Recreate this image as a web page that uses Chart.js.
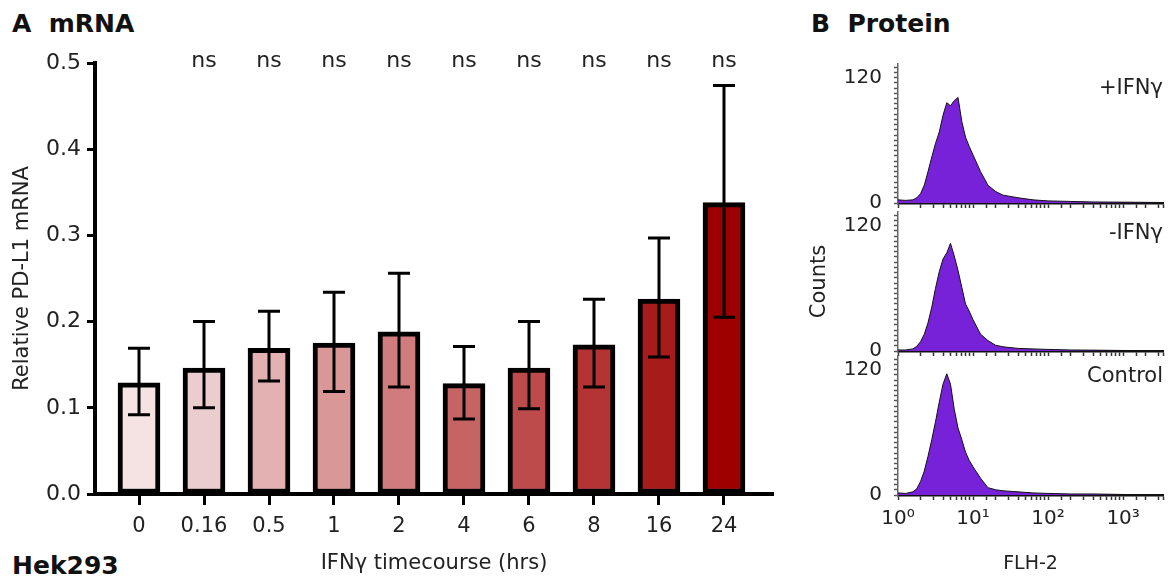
<!DOCTYPE html>
<html>
<head>
<meta charset="utf-8">
<script src="https://cdn.jsdelivr.net/npm/chart.js@4/dist/chart.umd.min.js"></script>
<style>
  body { margin: 0; background: #fff; width: 1175px; height: 579px; position: relative; overflow: hidden; font-family: "DejaVu Sans", sans-serif; }
  canvas { position: absolute; }
  .lbl { position: absolute; font-weight: bold; font-size: 25px; line-height: 1; color: #111; white-space: pre; }
</style>
</head>
<body>
<div class="lbl" style="left:12px; top:11px;">A  mRNA</div>
<div class="lbl" style="left:811px; top:11px;">B  Protein</div>
<div class="lbl" style="left:12px; top:553px;">Hek293</div>

<canvas id="barChart" width="800" height="579" style="left:0; top:0;"></canvas>
<canvas id="hist1" width="370" height="187" style="left:805px; top:40px;"></canvas>
<canvas id="hist2" width="370" height="187" style="left:805px; top:188px;"></canvas>
<canvas id="hist3" width="370" height="247" style="left:805px; top:332px;"></canvas>

<script>
// panel A - relative PD-L1 mRNA over the IFNg timecourse
const timepoints = ['0', '0.16', '0.5', '1', '2', '4', '6', '8', '16', '24'];
const mrnaMean  = [0.129, 0.146, 0.169, 0.175, 0.188, 0.128, 0.146, 0.173, 0.226, 0.338];
const mrnaUpper = [0.169, 0.200, 0.212, 0.234, 0.256, 0.171, 0.200, 0.226, 0.297, 0.474];
const mrnaLower = [0.092, 0.100, 0.131, 0.119, 0.124, 0.087, 0.099, 0.124, 0.159, 0.205];
const sigLabels = ['', 'ns', 'ns', 'ns', 'ns', 'ns', 'ns', 'ns', 'ns', 'ns'];
const barColors = ['#f5e3e3', '#eccdcf', '#e3b1b1', '#d99797', '#d07c7c',
                   '#c66464', '#bd4b4b', '#b43333', '#a81b1b', '#9e0000'];

// panel B - flow histograms (FLH-2 channel vs counts)
const flh2   = [1.00, 1.26, 1.58, 1.78, 2.00, 2.24, 2.51, 2.82, 3.16, 3.55, 3.98, 4.47, 5.01, 5.62, 6.31,
                7.08, 7.94, 8.91, 10.0, 12.6, 15.8, 20.0, 25.1, 39.8, 63.1, 100, 200, 398, 1000, 3160];
const plusIfn  = [3, 2.5, 3, 5, 9, 17, 30, 44, 57, 68, 84, 96, 93, 98, 101,
                  78, 63, 54, 46, 30, 17, 11, 7.5, 5, 3, 2, 1.5, 1, 0.8, 0.5];
const minusIfn = [1, 1, 2, 4.5, 9, 16, 27, 42, 60, 76, 88, 94, 103, 91, 77,
                  61, 45, 38, 30, 16, 10, 5.5, 4, 2.5, 2, 1.5, 1, 0.8, 0.5, 0.3];
const control  = [2, 1.5, 3, 6, 13, 23, 37, 53, 70, 89, 106, 116, 106, 82, 64,
                  53, 41, 33, 27, 16, 7, 5, 4, 3, 2, 1.5, 1, 1, 0.5, 0.3];
const countTicks = [0, 120];

Chart.defaults.font.family = 'DejaVu Sans';
Chart.defaults.color = '#222';

const errorBars = {
  id: 'errorBars',
  afterDatasetsDraw(chart) {
    const {ctx, scales: {x, y}} = chart;
    ctx.save();
    ctx.strokeStyle = '#000';
    ctx.lineWidth = 3;
    mrnaMean.forEach((m, i) => {
      const px = x.getPixelForValue(i);
      const top = y.getPixelForValue(mrnaUpper[i]);
      const bot = y.getPixelForValue(mrnaLower[i]);
      ctx.beginPath();
      ctx.moveTo(px, top); ctx.lineTo(px, bot);
      ctx.moveTo(px - 11, top); ctx.lineTo(px + 11, top);
      ctx.moveTo(px - 11, bot); ctx.lineTo(px + 11, bot);
      ctx.stroke();
    });
    // significance labels on the 0.5 line
    ctx.fillStyle = '#222';
    ctx.font = '22px "DejaVu Sans"';
    ctx.textAlign = 'center';
    ctx.textBaseline = 'middle';
    sigLabels.forEach((s, i) => {
      if (s) ctx.fillText(s, x.getPixelForValue(i), y.getPixelForValue(0.5) - 2);
    });
    ctx.restore();
  }
};

new Chart(document.getElementById('barChart'), {
  type: 'bar',
  data: {
    datasets: [{
      data: mrnaMean.map((v, i) => ({x: i, y: v})),
      backgroundColor: barColors,
      borderColor: '#000',
      borderWidth: 5,
      borderSkipped: false,
      barThickness: 42,
    }]
  },
  options: {
    responsive: false,
    animation: false,
    layout: { padding: { top: 63, right: 27, left: 0, bottom: 0 } },
    plugins: { legend: { display: false }, tooltip: { enabled: false } },
    scales: {
      x: {
        type: 'linear',
        offset: false,
        min: -0.677,
        max: 9.754,
        afterFit: (s) => { s.height = 85; },
        border: { color: '#000', width: 4 },
        grid: { offset: false, drawOnChartArea: false, tickLength: 11, tickWidth: 3, tickColor: '#000' },
        ticks: {
          stepSize: 1,
          includeBounds: false,
          autoSkip: false,
          maxRotation: 0,
          padding: 9,
          font: { size: 21 },
          callback: (v) => timepoints[v] ?? ''
        },
        title: { display: true, text: 'IFNγ timecourse (hrs)', font: { size: 21 }, padding: { top: 0, bottom: 3 } }
      },
      y: {
        min: 0,
        max: 0.5,
        afterFit: (s) => { s.width = 95; },
        border: { color: '#000', width: 4 },
        grid: { drawOnChartArea: false, tickLength: 8, tickWidth: 3, tickColor: '#000' },
        ticks: { stepSize: 0.1, padding: 6, font: { size: 22 }, callback: (v) => v.toFixed(1) },
        title: { display: true, text: 'Relative PD-L1 mRNA', font: { size: 21 }, padding: { top: 10, bottom: 0 } }
      }
    }
  },
  plugins: [errorBars]
});

const panelLabel = {
  id: 'panelLabel',
  afterDraw(chart, args, opts) {
    const {ctx, chartArea} = chart;
    ctx.save();
    ctx.fillStyle = '#222';
    ctx.font = '21px "DejaVu Sans"';
    ctx.textAlign = 'right';
    ctx.textBaseline = 'middle';
    ctx.fillText(opts.text, chartArea.right, chartArea.top + opts.dy);
    ctx.restore();
  }
};

const sup = {'0': '⁰', '1': '¹', '2': '²', '3': '³'};

function makeHist(id, counts, label, dy, opts) {
  return new Chart(document.getElementById(id), {
    type: 'line',
    data: {
      datasets: [{
        data: flh2.map((f, i) => ({x: f, y: counts[i]})),
        fill: 'origin',
        backgroundColor: '#7722d8',
        borderColor: '#111',
        borderWidth: 1,
        pointRadius: 0,
        tension: 0
      }]
    },
    options: {
      responsive: false,
      animation: false,
      layout: { padding: { top: 22, right: 12, left: 0, bottom: 0 } },
      plugins: {
        legend: { display: false },
        tooltip: { enabled: false },
        panelLabel: { text: label, dy: dy }
      },
      scales: {
        x: {
          type: 'logarithmic',
          min: 1,
          max: 3400,
          afterFit: (s) => { s.height = opts.xHeight; },
          border: { color: '#111', width: 2.5 },
          grid: { drawOnChartArea: false, tickLength: 5, tickWidth: 1.5, tickColor: '#333' },
          ticks: {
            display: opts.showX,
            includeBounds: false,
            autoSkip: false,
            maxRotation: 0,
            padding: 7,
            font: { size: 20 },
            callback: (v) => {
              const e = Math.log10(v);
              return Math.abs(e - Math.round(e)) < 1e-6 ? '10' + sup[String(Math.round(e))] : '';
            }
          },
          title: { display: opts.showX, text: 'FLH-2', font: { size: 19 }, padding: { top: 0, bottom: 4 } }
        },
        y: {
          min: 0,
          max: 133,
          afterFit: (s) => { s.width = 93; },
          border: { color: '#666', width: 1.5 },
          grid: { drawOnChartArea: false, tickLength: 4, tickWidth: 1.5, tickColor: '#555' },
          ticks: {
            stepSize: 5,
            includeBounds: false,
            autoSkip: false,
            padding: 12,
            font: { size: 20 },
            callback: (v) => countTicks.includes(v) ? String(v) : ''
          },
          title: { display: opts.showTitle, text: 'Counts', font: { size: 21 }, padding: { top: 2, bottom: 0 } }
        }
      }
    },
    plugins: [panelLabel]
  });
}

makeHist('hist1', plusIfn, '+IFNγ', 25, { xHeight: 7, showX: false, showTitle: false });
makeHist('hist2', minusIfn, '-IFNγ', 22, { xHeight: 7, showX: false, showTitle: true });
makeHist('hist3', control, 'Control', 21, { xHeight: 84, showX: true, showTitle: false });
</script>
</body>
</html>
